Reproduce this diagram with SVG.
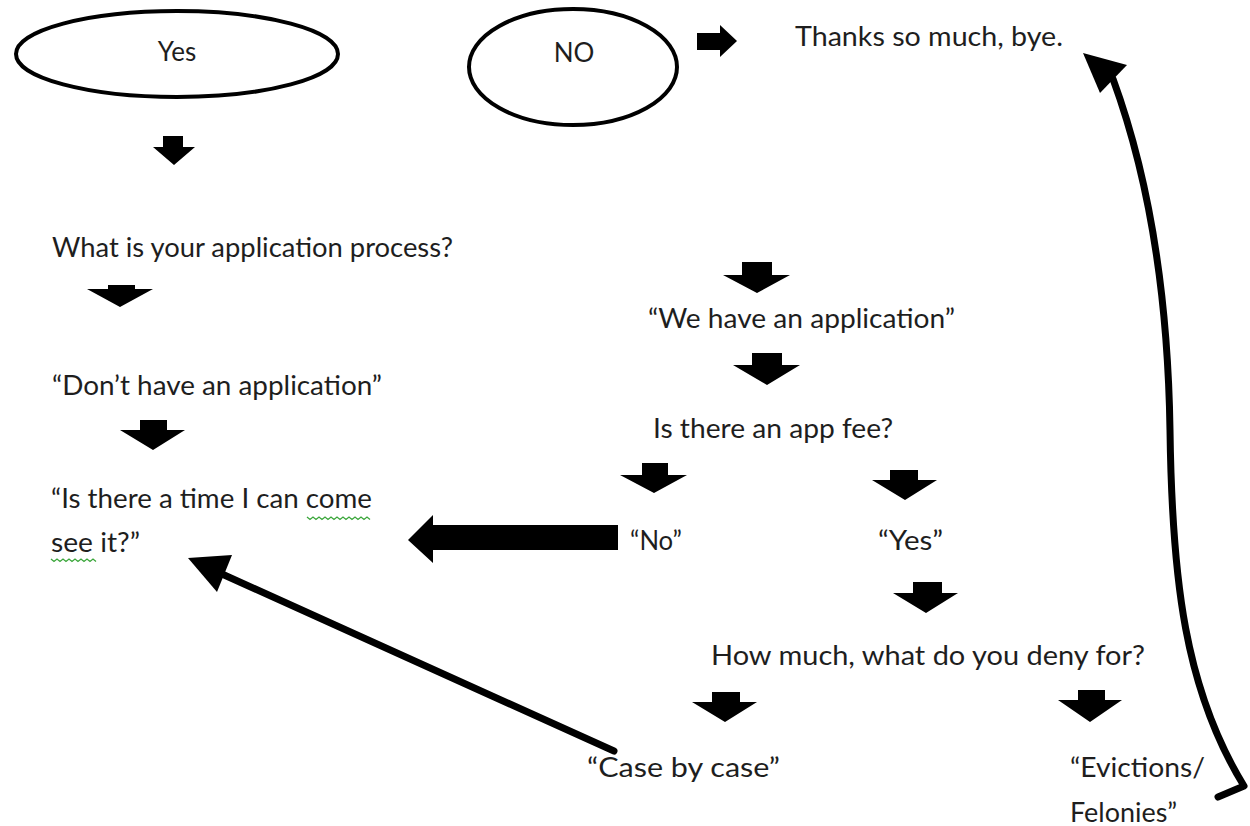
<svg xmlns="http://www.w3.org/2000/svg" width="1250" height="826" viewBox="0 0 1250 826">
<style>
  .t { font-family: "Lato", "Liberation Sans", sans-serif; font-size: 26px; fill: #1e1e1e; }
  .shape { fill: #fff; stroke: #000; stroke-width: 4; }
  .blk { fill: #000; stroke: none; }
  .line { fill: none; stroke: #000; stroke-width: 7; stroke-linecap: round; stroke-linejoin: round; }
  .squig { fill: none; stroke: #3aa63a; stroke-width: 1.3; }
</style>
<rect width="1250" height="826" fill="#fff"/>

<g id="node-yes">
  <ellipse class="shape" cx="177" cy="54" rx="161" ry="43"/>
  <text class="t" x="177" y="61" text-anchor="middle">Yes</text>
</g>
<g id="node-no">
  <ellipse class="shape" cx="573" cy="67" rx="104" ry="58"/>
  <text class="t" x="574" y="62" text-anchor="middle">NO</text>
</g>
<g id="node-thanks">
  <text class="t" x="795" y="46" textLength="268" lengthAdjust="spacingAndGlyphs">Thanks so much, bye.</text>
</g>
<g id="node-process">
  <text class="t" x="52" y="257" textLength="401" lengthAdjust="spacingAndGlyphs">What is your application process?</text>
</g>
<g id="node-dont">
  <text class="t" x="52" y="395" textLength="330" lengthAdjust="spacingAndGlyphs">“Don’t have an application”</text>
</g>
<g id="node-see">
  <text class="t" x="51" y="508" textLength="321" lengthAdjust="spacingAndGlyphs">“Is there a time I can come</text>
  <text class="t" x="51" y="552" textLength="89" lengthAdjust="spacingAndGlyphs">see it?”</text>
  <path class="squig" d="M307 517 l3 2.5 l3 -2.5 l3 2.5 l3 -2.5 l3 2.5 l3 -2.5 l3 2.5 l3 -2.5 l3 2.5 l3 -2.5 l3 2.5 l3 -2.5 l3 2.5 l3 -2.5 l3 2.5 l3 -2.5 l3 2.5 l3 -2.5 l3 2.5 l3 -2.5 l3 2.5"/>
  <path class="squig" d="M51 559 l3 2.5 l3 -2.5 l3 2.5 l3 -2.5 l3 2.5 l3 -2.5 l3 2.5 l3 -2.5 l3 2.5 l3 -2.5 l3 2.5 l3 -2.5 l3 2.5 l3 -2.5 l3 2.5"/>
</g>
<g id="node-we-have">
  <text class="t" x="648" y="328" textLength="307" lengthAdjust="spacingAndGlyphs">“We have an application”</text>
</g>
<g id="node-fee">
  <text class="t" x="653" y="438" textLength="240" lengthAdjust="spacingAndGlyphs">Is there an app fee?</text>
</g>
<g id="node-no-answer">
  <text class="t" x="630" y="550" textLength="52" lengthAdjust="spacingAndGlyphs">“No”</text>
</g>
<g id="node-yes-answer">
  <text class="t" x="878" y="550" textLength="65" lengthAdjust="spacingAndGlyphs">“Yes”</text>
</g>
<g id="node-how-much">
  <text class="t" x="711" y="665" textLength="434" lengthAdjust="spacingAndGlyphs">How much, what do you deny for?</text>
</g>
<g id="node-case">
  <text class="t" x="587" y="777" textLength="193" lengthAdjust="spacingAndGlyphs">“Case by case”</text>
</g>
<g id="node-evictions">
  <text class="t" x="1070" y="777" textLength="135" lengthAdjust="spacingAndGlyphs">“Evictions/</text>
  <text class="t" x="1070" y="822" textLength="107" lengthAdjust="spacingAndGlyphs">Felonies”</text>
</g>

<g id="connectors">
  <!-- block down arrows -->
  <polygon class="blk" points="163,136 183,136 183,147 195,147 174,165 153,147 163,147"/>
  <polygon class="blk" points="108,285 135,285 135,289 153,289 120,307 87,289 108,289"/>
  <polygon class="blk" points="140,420 167,420 167,430 185,430 153,450 120,430 140,430"/>
  <polygon class="blk" points="742,262 772,262 772,275 790,275 757,293 723,275 742,275"/>
  <polygon class="blk" points="752,353 782,353 782,365 800,365 767,385 733,365 752,365"/>
  <polygon class="blk" points="642,463 668,463 668,475 687,475 654,493 620,475 642,475"/>
  <polygon class="blk" points="890,470 918,470 918,480 937,480 905,500 872,480 890,480"/>
  <polygon class="blk" points="913,582 942,582 942,593 958,593 926,613 893,593 913,593"/>
  <polygon class="blk" points="712,692 740,692 740,702 757,702 725,722 692,702 712,702"/>
  <polygon class="blk" points="1078,690 1105,690 1105,700 1122,700 1090,722 1058,700 1078,700"/>
  <!-- right arrow NO -> Thanks -->
  <polygon class="blk" points="697,33 720,33 720,25 737,41 720,57 720,50 697,50"/>
  <!-- big left arrow No -> see it -->
  <polygon class="blk" points="618,525 433,525 433,515 408,540 433,563 433,550 618,550"/>
  <!-- diagonal arrow Case by case -> see it -->
  <line class="line" x1="614" y1="751" x2="222" y2="574" stroke-width="8"/>
  <polygon class="blk" points="188,558 232,555 217,592"/>
  <!-- curved arrow Evictions -> Thanks -->
  <path class="line" d="M1113 79 C1150 180 1168 300 1170 430 C1172 580 1185 690 1244 786 L1218 797"/>
  <polygon class="blk" points="1083,53 1127,65 1100,93"/>
</g>
</svg>
